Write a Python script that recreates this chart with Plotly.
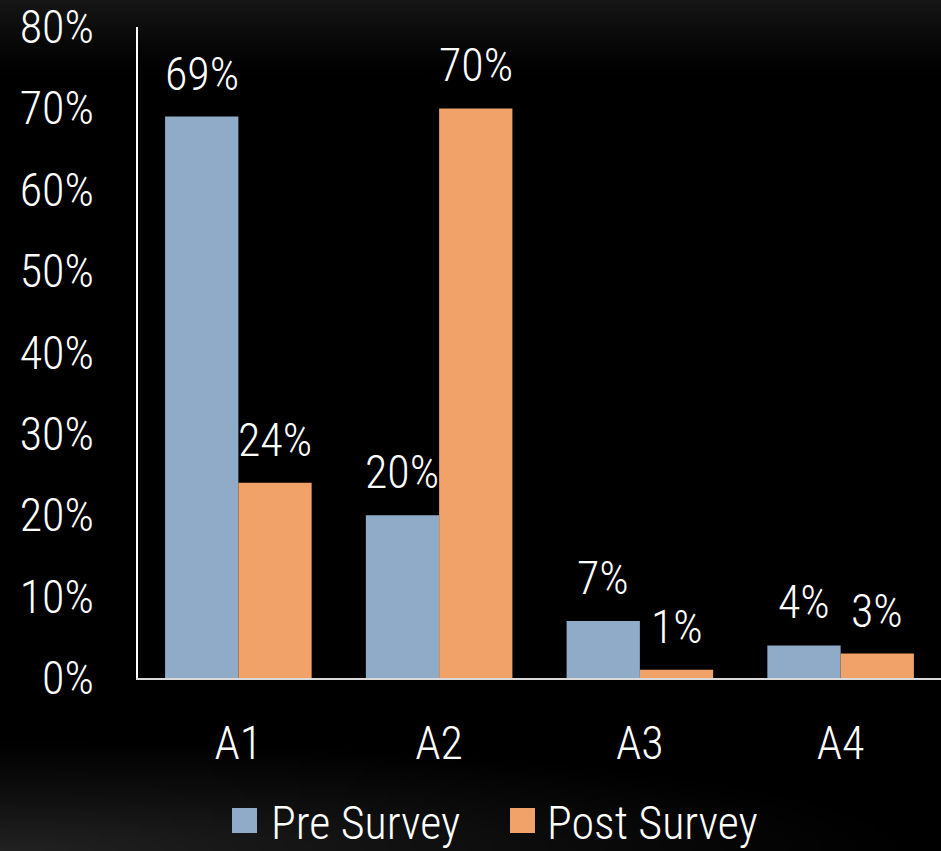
import base64, struct, zlib
import numpy as np
import plotly.graph_objects as go

# ---------------- data ----------------
categories = ["A1", "A2", "A3", "A4"]
pre_survey = [0.69, 0.20, 0.07, 0.04]
post_survey = [0.24, 0.70, 0.01, 0.03]
y_ticks = [0.0, 0.1, 0.2, 0.3, 0.4, 0.5, 0.6, 0.7, 0.8]
series_names = ["Pre Survey", "Post Survey"]

# ---------------- style ----------------
W, H = 941, 851
ML, MR, MT, MB = 138, 0, 27, 173
FONT = "Liberation Sans Narrow, Arial Narrow, Roboto Condensed, Liberation Sans, sans-serif"
FS = 46
FW = 300
PRE_COLOR = "#90abc8"
POST_COLOR = "#f0a268"


def png_data_uri(arr):
    h, w, _ = arr.shape
    raw = b"".join(b"\x00" + arr[r].tobytes() for r in range(h))

    def chunk(tag, data):
        c = struct.pack(">I", len(data)) + tag + data
        return c + struct.pack(">I", zlib.crc32(tag + data) & 0xFFFFFFFF)

    png = b"\x89PNG\r\n\x1a\n" + chunk(b"IHDR", struct.pack(">IIBBBBB", w, h, 8, 2, 0, 0, 0))
    png += chunk(b"IDAT", zlib.compress(raw, 9)) + chunk(b"IEND", b"")
    return "data:image/png;base64," + base64.b64encode(png).decode()


# background: dark with faint grey glow at top and bottom-left
gw, gh = 236, 213
xs = np.linspace(0, W, gw)[None, :]
ys = np.linspace(0, H, gh)[:, None]
top = 22 * np.clip(1 - ys / 80.0, 0, 1) ** 1.3 + 0 * xs
d = np.sqrt((xs / 950.0) ** 2 + ((H - ys) / 115.0) ** 2)
bl = 34 * np.clip(1 - d, 0, 1) ** 1.2
v = np.maximum(top, bl)
bg = np.clip(np.repeat(v[:, :, None], 3, axis=2), 0, 255).astype(np.uint8)
bg_uri = png_data_uri(bg)

fnt = dict(family=FONT, size=FS, color="white", weight=FW)

fig = go.Figure()
fig.add_trace(go.Bar(x=categories, y=pre_survey, name=series_names[0],
                     marker=dict(color=PRE_COLOR, line=dict(width=0)), showlegend=False))
fig.add_trace(go.Bar(x=categories, y=post_survey, name=series_names[1],
                     marker=dict(color=POST_COLOR, line=dict(width=0)), showlegend=False))

# value labels above each bar
plot_w = W - ML - MR
half_bar = plot_w / len(categories) * (1 - 0.27) / 4
annotations = []
for vals, sign in ((pre_survey, -1), (post_survey, 1)):
    for c, val in zip(categories, vals):
        annotations.append(dict(x=c, y=val, xref="x", yref="y", text=f"{val:.0%}",
                                showarrow=False, yanchor="bottom", xanchor="center",
                                xshift=sign * half_bar, yshift=14, font=fnt))


def px_x(p):
    return (p - ML) / plot_w


def px_y(p):
    return (H - MB - p) / (H - MT - MB)


# manual legend
shapes = []
legend_items = [(series_names[0], PRE_COLOR, 232, 269), (series_names[1], POST_COLOR, 510, 545)]
for name, col, sx, tx in legend_items:
    shapes.append(dict(type="rect", xref="paper", yref="paper",
                       x0=px_x(sx), x1=px_x(sx + 25), y0=px_y(833), y1=px_y(808),
                       fillcolor=col, line=dict(width=0), layer="above"))
    annotations.append(dict(x=px_x(tx), y=px_y(823), xref="paper", yref="paper", text=name,
                            showarrow=False, xanchor="left", yanchor="middle", font=fnt))

fig.update_layout(
    width=W, height=H,
    margin=dict(l=ML, r=MR, t=MT, b=MB, pad=0),
    paper_bgcolor="black",
    plot_bgcolor="rgba(0,0,0,0)",
    barmode="group", bargap=0.27, bargroupgap=0,
    font=fnt,
    annotations=annotations,
    shapes=shapes,
    images=[dict(source=bg_uri, xref="paper", yref="paper", x=px_x(0), y=px_y(0),
                 sizex=W / plot_w, sizey=H / (H - MT - MB), xanchor="left", yanchor="top",
                 sizing="stretch", layer="below")],
    xaxis=dict(showline=True, linecolor="#d9d9d9", linewidth=2, showgrid=False,
               ticks="", ticklabelstandoff=24, tickfont=fnt, zeroline=False),
    yaxis=dict(range=[0, 0.8], tickvals=y_ticks, tickformat=".0%", showline=True,
               linecolor="white", linewidth=2, showgrid=False, zeroline=False, ticks="",
               ticklabelstandoff=33, tickfont=fnt),
)

fig.write_html("out.html")
